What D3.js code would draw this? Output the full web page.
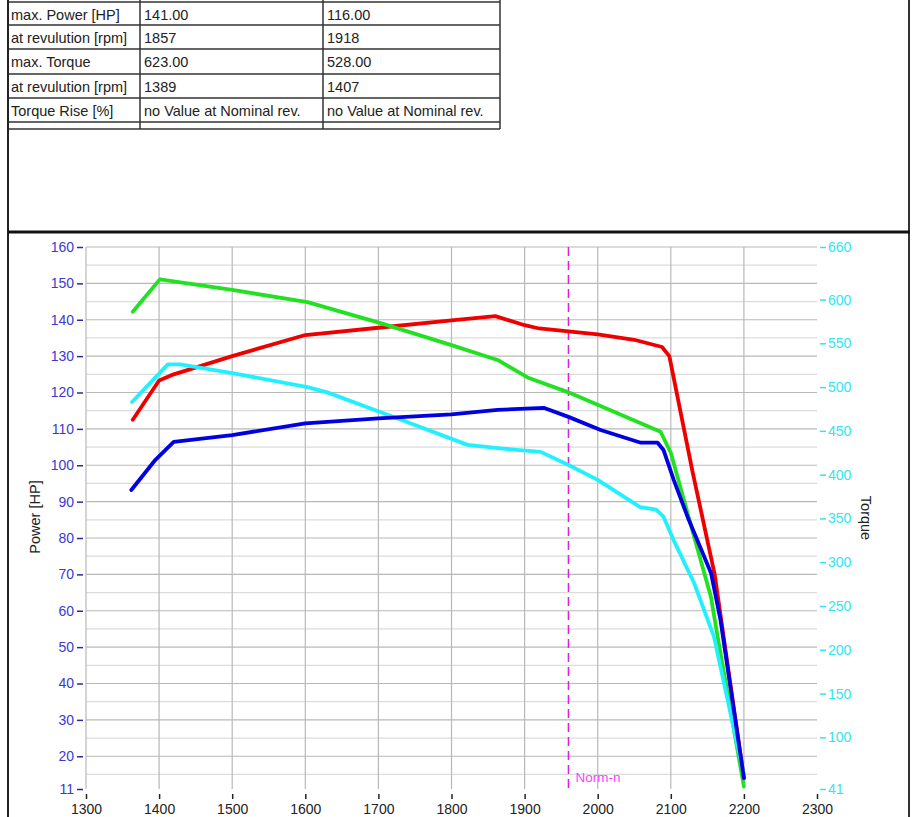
<!DOCTYPE html>
<html>
<head>
<meta charset="utf-8">
<script src="https://cdnjs.cloudflare.com/ajax/libs/d3/7.8.5/d3.min.js"></script>
<style>
  body { margin: 0; background: #fff; }
  svg { display: block; font-family: "Liberation Sans", Arial, sans-serif; }
  .tbl { font-size: 14.5px; fill: #222; }
</style>
</head>
<body>
<div id="chart"></div>
<script>
// table data
var rowLabels = ["max. Power [HP]", "at revulution [rpm]", "max. Torque", "at revulution [rpm]", "Torque Rise [%]"];
var engineA = ["141.00", "1857", "623.00", "1389", "no Value at Nominal rev."];
var engineB = ["116.00", "1918", "528.00", "1407", "no Value at Nominal rev."];

// curves (rpm / value)
var powerARpm = [1364, 1400, 1420, 1500, 1600, 1700, 1800, 1860, 1900, 1920, 2000, 2050, 2088, 2098, 2130, 2160, 2200];
var powerAHp = [112.5, 123.3, 125, 130, 135.8, 137.8, 139.8, 141, 138.5, 137.6, 136, 134.5, 132.5, 130, 98, 70, 14];

var powerBRpm = [1362, 1395, 1420, 1500, 1600, 1700, 1800, 1863, 1926, 1960, 2004, 2059, 2082, 2090, 2104, 2123, 2155, 2168, 2200];
var powerBHp = [93.2, 101.5, 106.4, 108.3, 111.5, 112.9, 114, 115.2, 115.8, 113.3, 109.7, 106.2, 106.2, 104.2, 96, 85.8, 70.4, 57.5, 14];

var torqueARpm = [1364, 1401, 1500, 1603, 1703, 1800, 1863, 1904, 1960, 2086, 2100, 2123, 2141, 2155, 2164, 2200];
var torqueANm = [586, 623, 611, 597, 573, 548, 531, 511, 494, 449, 425, 356, 302, 260, 215, 44];

var torqueBRpm = [1363, 1412, 1429, 1500, 1603, 1630, 1730, 1822, 1867, 1922, 1960, 2000, 2058, 2080, 2090, 2104, 2132, 2159, 2200];
var torqueBNm = [483, 526, 526, 516, 500, 494, 463, 434, 430, 426, 411, 394, 363, 360, 352, 325, 276, 215, 57];

var rpmTicks = [1300, 1400, 1500, 1600, 1700, 1800, 1900, 2000, 2100, 2200, 2300];
var powerTicks = [11, 20, 30, 40, 50, 60, 70, 80, 90, 100, 110, 120, 130, 140, 150, 160];
var torqueTicks = [41, 100, 150, 200, 250, 300, 350, 400, 450, 500, 550, 600, 660];
var nominalRpm = 1960;

var svgWidth = 912;
var svgHeight = 817;

var svg = d3.select("#chart")
  .append("svg")
  .attr("width", svgWidth)
  .attr("height", svgHeight);

svg.append("rect").attr("width", svgWidth).attr("height", svgHeight).attr("fill", "#fff");

// ---------------- table ----------------
var colX = [8, 140, 323, 500];
var rowY = [2, 25, 49, 74, 98, 122, 129];

var tbl = svg.append("g");
rowY.forEach(function(y) {
  tbl.append("line").attr("x1", colX[0]).attr("x2", colX[3]).attr("y1", y).attr("y2", y)
    .attr("stroke", "#333").attr("stroke-width", 1.5);
});
colX.forEach(function(x) {
  tbl.append("line").attr("x1", x).attr("x2", x).attr("y1", 0).attr("y2", 129)
    .attr("stroke", "#333").attr("stroke-width", 1.5);
});
[rowLabels, engineA, engineB].forEach(function(col, c) {
  tbl.selectAll(null)
    .data(col)
    .enter()
    .append("text")
    .attr("class", "tbl")
    .attr("x", colX[c] + (c == 0 ? 3 : 4))
    .attr("y", (d, i) => rowY[i] + 17.5)
    .text(d => d);
});

// frame
svg.append("line").attr("x1", 8).attr("x2", 8).attr("y1", 0).attr("y2", svgHeight).attr("stroke", "#222").attr("stroke-width", 2);
svg.append("line").attr("x1", 909).attr("x2", 909).attr("y1", 0).attr("y2", svgHeight).attr("stroke", "#333").attr("stroke-width", 2);
svg.append("line").attr("x1", 8).attr("x2", 910).attr("y1", 232).attr("y2", 232).attr("stroke", "#111").attr("stroke-width", 3);

// ---------------- chart ----------------
var xScale = d3.scaleLinear().domain([1300, 2300]).range([86, 817]);
var yPower = d3.scaleLinear().domain([11, 160]).range([789, 247]);
var yTorque = d3.scaleLinear().domain([41, 660]).range([789, 247]);

// grid
var gridVals = d3.range(15, 161, 5);
svg.append("g").selectAll("line")
  .data(gridVals)
  .enter()
  .append("line")
  .attr("x1", xScale(1300)).attr("x2", xScale(2300))
  .attr("y1", d => yPower(d)).attr("y2", d => yPower(d))
  .attr("stroke", d => d % 10 == 0 ? "#b8b8b8" : "#dcdcdc")
  .attr("stroke-width", 1.2);

svg.append("g").selectAll("line")
  .data(rpmTicks.slice(0, -1))
  .enter()
  .append("line")
  .attr("x1", d => xScale(d)).attr("x2", d => xScale(d))
  .attr("y1", yPower(160)).attr("y2", yPower(11))
  .attr("stroke", "#b8b8b8")
  .attr("stroke-width", 1.2);

// axes
var leftAxis = d3.axisLeft(yPower).tickValues(powerTicks).tickSize(6).tickPadding(3);
var gl = svg.append("g").attr("transform", "translate(83,0)").call(leftAxis);
gl.select(".domain").remove();
gl.selectAll("line").attr("stroke", "#2a2a9a").attr("stroke-width", 1.5);
gl.selectAll("text").attr("fill", "#3a3ad0").attr("font-size", 14).attr("font-family", "Liberation Sans, Arial");

var rightAxis = d3.axisRight(yTorque).tickValues(torqueTicks).tickSize(6).tickPadding(2);
var gr = svg.append("g").attr("transform", "translate(820,0)").call(rightAxis);
gr.select(".domain").remove();
gr.selectAll("line").attr("stroke", "#30e6f2").attr("stroke-width", 1.5);
gr.selectAll("text").attr("fill", "#30e6f2").attr("font-size", 14).attr("font-family", "Liberation Sans, Arial");

var bottomAxis = d3.axisBottom(xScale).tickValues(rpmTicks).tickFormat(d3.format("d")).tickSize(5).tickPadding(5);
var gb = svg.append("g").attr("transform", "translate(0,794)").call(bottomAxis);
gb.select(".domain").remove();
gb.selectAll("line").attr("stroke", "#222").attr("stroke-width", 1.5);
gb.selectAll("text").attr("fill", "#222").attr("font-size", 14).attr("font-family", "Liberation Sans, Arial");

// axis titles
svg.append("text")
  .attr("transform", "translate(40, 517)rotate(-90)")
  .attr("text-anchor", "middle")
  .attr("font-size", 14.5)
  .attr("fill", "#222")
  .text("Power [HP]");
svg.append("text")
  .attr("transform", "translate(861, 518)rotate(90)")
  .attr("text-anchor", "middle")
  .attr("font-size", 14.5)
  .attr("fill", "#222")
  .text("Torque");

// nominal rev line
svg.append("line")
  .attr("x1", xScale(nominalRpm)).attr("x2", xScale(nominalRpm))
  .attr("y1", yPower(160)).attr("y2", yPower(11))
  .attr("stroke", "#e01ee0").attr("stroke-width", 1.5)
  .attr("stroke-dasharray", "9,5");
svg.append("text")
  .attr("x", xScale(nominalRpm) + 7)
  .attr("y", 782)
  .attr("font-size", 13.5)
  .attr("fill", "#ff40ff")
  .text("Norm-n");

// curves
function drawCurve(rpm, vals, yScale, color) {
  var pts = rpm.map((r, i) => [xScale(r), yScale(vals[i])]);
  svg.append("path")
    .attr("d", d3.line()(pts))
    .attr("fill", "none")
    .attr("stroke", color)
    .attr("stroke-width", 3.8)
    .attr("stroke-linejoin", "round")
    .attr("stroke-linecap", "round");
}

drawCurve(powerARpm, powerAHp, yPower, "#ee0000");
drawCurve(torqueARpm, torqueANm, yTorque, "#22e022");
drawCurve(torqueBRpm, torqueBNm, yTorque, "#22f0ff");
drawCurve(powerBRpm, powerBHp, yPower, "#0000e0");
</script>
</body>
</html>
